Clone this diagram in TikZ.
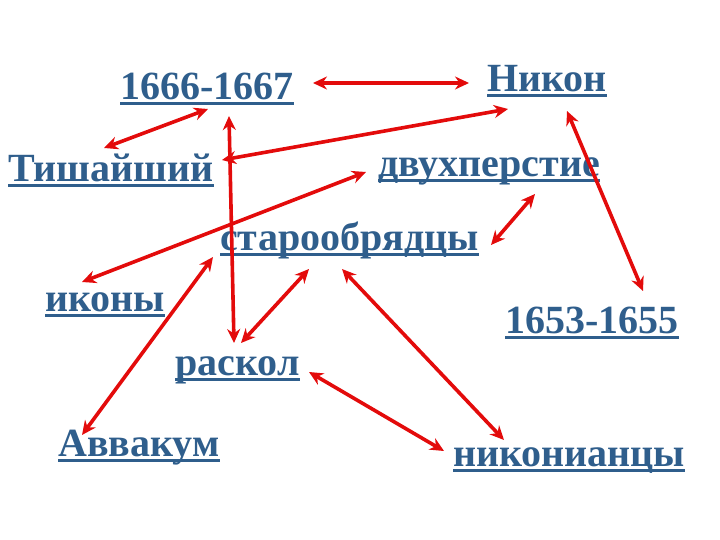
\documentclass[tikz,border=0pt]{standalone}
\usepackage{fontspec}
\setmainfont{Liberation Serif}
\usetikzlibrary{arrows.meta}
\definecolor{txtblue}{HTML}{2F5E8C}
\definecolor{arrred}{HTML}{E30B0B}
\tikzset{
  word/.style={inner sep=0pt, anchor=base west, text=txtblue, font=\fontsize{40}{40}\selectfont\bfseries},
  link/.style={draw=arrred, line width=3.6pt, {Stealth[length=14pt,width=13pt]}-{Stealth[length=14pt,width=13pt]}},
  uline/.style={draw=txtblue, line width=3pt}
}
\newcommand{\wordnode}[3]{%
  \node[word] (#1) at (#2) {#3};
  \draw[uline] ([yshift=-4pt]#1.base west) -- ([yshift=-4pt]#1.base east);
}
\begin{document}
\begin{tikzpicture}[x=1pt,y=-1pt]
\useasboundingbox (0,0) rectangle (720,540);
\wordnode{y1666}{120,100}{1666-1667}
\wordnode{nikon}{487,92}{Никон}
\wordnode{tish}{8,182}{Тишайший}
\wordnode{dvuh}{378,177}{двухперстие}
\wordnode{staro}{220,250}{старообрядцы}
\wordnode{ikony}{45,311}{иконы}
\wordnode{y1653}{505,333}{1653-1655}
\wordnode{raskol}{175,375}{раскол}
\wordnode{avv}{58,456}{Аввакум}
\wordnode{nikn}{453,466}{никонианцы}
% arrow end points
\coordinate (a1) at (313,83);  \coordinate (b1) at (469,83);
\coordinate (a2) at (104,148); \coordinate (b2) at (208,109);
\coordinate (a3) at (229,116); \coordinate (b3) at (234,343);
\coordinate (a4) at (222,160); \coordinate (b4) at (508,109);
\coordinate (a5) at (82,282);  \coordinate (b5) at (366,172);
\coordinate (a6) at (491,245); \coordinate (b6) at (535,194);
\coordinate (a7) at (567,111); \coordinate (b7) at (643,291);
\coordinate (a8) at (82,435);  \coordinate (b8) at (213,257);
\coordinate (a9) at (241,343); \coordinate (b9) at (309,269);
\coordinate (a10) at (342,269); \coordinate (b10) at (504,440);
\coordinate (a11) at (309,372); \coordinate (b11) at (444,451);
\draw[link] (a1) -- (b1);
\draw[link] (a2) -- (b2);
\draw[link] (a3) -- (b3);
\draw[link] (a4) -- (b4);
\draw[link] (a5) -- (b5);
\draw[link] (a6) -- (b6);
\draw[link] (a7) -- (b7);
\draw[link] (a8) -- (b8);
\draw[link] (a9) -- (b9);
\draw[link] (a10) -- (b10);
\draw[link] (a11) -- (b11);
\end{tikzpicture}
\end{document}
